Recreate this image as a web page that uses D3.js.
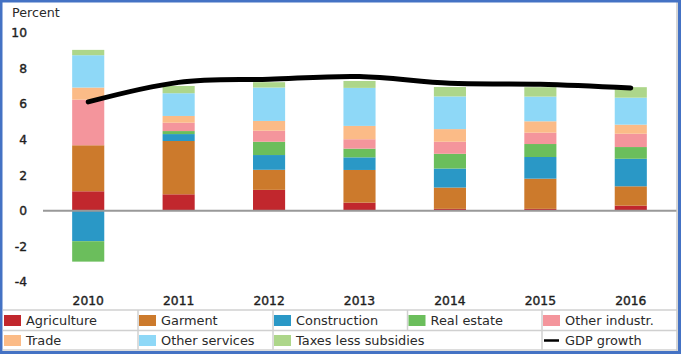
<!DOCTYPE html>
<html>
<head>
<meta charset="utf-8">
<script src="https://cdn.jsdelivr.net/npm/d3@7"></script>
<style>
  html, body { margin: 0; padding: 0; background: #fff; }
  svg { display: block; font-family: "DejaVu Sans", Verdana, sans-serif; }
</style>
</head>
<body>
<div id="chart"></div>
<script>
// contributions to growth, percentage points
const years = ["2010", "2011", "2012", "2013", "2014", "2015", "2016"];
const sectors = ["Agriculture", "Garment", "Construction", "Real estate", "Other industr.",
                 "Trade", "Other services", "Taxes less subsidies"];
const agriculture   = [1.09, 0.92, 1.17, 0.45, 0.10, 0.10, 0.28];
const garment       = [2.59, 3.00, 1.13, 1.84, 1.20, 1.70, 1.09];
const construction  = [-1.72, 0.39, 0.83, 0.71, 1.07, 1.22, 1.55];
const realEstate    = [-1.15, 0.17, 0.75, 0.49, 0.83, 0.73, 0.66];
const otherIndustry = [2.57, 0.47, 0.62, 0.53, 0.68, 0.64, 0.75];
const trade         = [0.68, 0.38, 0.55, 0.75, 0.71, 0.64, 0.51];
const otherServices = [1.82, 1.28, 1.88, 2.14, 1.84, 1.39, 1.52];
const taxes         = [0.30, 0.41, 0.30, 0.39, 0.53, 0.53, 0.59];
const gdpGrowth     = [6.12, 7.22, 7.40, 7.55, 7.17, 7.12, 6.91];
const yTicks = [-4, -2, 0, 2, 4, 6, 8, 10];

const colors = ["#c1272d", "#cc7a2c", "#2a98c6", "#6bbe5c", "#f4959c",
                "#fbbb87", "#8ed8f7", "#add68a"];
const seriesValues = [agriculture, garment, construction, realEstate, otherIndustry,
                      trade, otherServices, taxes];

const rows = years.map((yr, i) => {
  const r = { year: yr };
  sectors.forEach((s, k) => { r[s] = seriesValues[k][i]; });
  return r;
});

const W = 681, H = 354;
const svg = d3.select("#chart").append("svg")
  .attr("width", W).attr("height", H);

const x = d3.scaleBand().domain(years).range([43, 676])
  .paddingInner(0.645).paddingOuter(0.3225);
const y = d3.scaleLinear().domain([-4, 10]).range([281.7, 33]);

// y tick labels
svg.append("g").selectAll("text")
  .data(yTicks).join("text")
  .attr("x", 27).attr("y", d => y(d))
  .attr("dy", "0.36em")
  .attr("text-anchor", "end")
  .attr("font-size", 12.3)
  .attr("fill", "#1e1e1e")
  .attr("stroke", "#1e1e1e").attr("stroke-width", 0.4)
  .text(d => d);

svg.append("text")
  .attr("x", 12).attr("y", 17)
  .attr("font-size", 12.7)
  .attr("fill", "#2a2a2a")
  .text("Percent");

// stacked bars
const stack = d3.stack().keys(sectors).offset(d3.stackOffsetDiverging);
const layers = stack(rows);

svg.append("g").selectAll("g")
  .data(layers).join("g")
  .attr("fill", (d, i) => colors[i])
  .selectAll("rect")
  .data(d => d).join("rect")
  .attr("x", d => x(d.data.year))
  .attr("width", x.bandwidth())
  .attr("y", d => y(Math.max(d[0], d[1])))
  .attr("height", d => Math.abs(y(d[0]) - y(d[1])));

// zero line
svg.append("line")
  .attr("x1", 43).attr("x2", 677)
  .attr("y1", y(0)).attr("y2", y(0))
  .attr("stroke", "#999").attr("stroke-width", 2);

// GDP line
const line = d3.line()
  .x((d, i) => x(years[i]) + x.bandwidth() / 2)
  .y(d => y(d))
  .curve(d3.curveCatmullRom.alpha(0.5));

svg.append("path")
  .datum(gdpGrowth)
  .attr("fill", "none")
  .attr("stroke", "#000")
  .attr("stroke-width", 5)
  .attr("stroke-linecap", "round")
  .attr("d", line);

// x labels
svg.append("g").selectAll("text")
  .data(years).join("text")
  .attr("x", d => x(d) + x.bandwidth() / 2)
  .attr("y", 301)
  .attr("dy", "0.36em")
  .attr("text-anchor", "middle")
  .attr("font-size", 12.3)
  .attr("fill", "#1e1e1e")
  .attr("stroke", "#1e1e1e").attr("stroke-width", 0.4)
  .text(d => d);

// legend grid
const legendItems = sectors.map((s, i) => ({ name: s, color: colors[i], type: "rect" }));
legendItems.push({ name: "GDP growth", color: "#000", type: "line" });
const colX = [3, 138, 273, 407.5, 542];
const rowY = [310, 330.5, 350];
const slots = [[0, 0], [1, 0], [2, 0], [3, 0], [4, 0], [0, 1], [1, 1], [2, 1], [4, 1]];

const grid = svg.append("g").attr("stroke", "#d0d0d0").attr("stroke-width", 1.5);
rowY.forEach(yy => {
  grid.append("line").attr("x1", 3).attr("x2", 677).attr("y1", yy).attr("y2", yy);
});
colX.slice(1).forEach(cx => {
  grid.append("line").attr("x1", cx).attr("x2", cx).attr("y1", rowY[0]).attr("y2", rowY[1]);
  if (cx !== 407.5) {
    grid.append("line").attr("x1", cx).attr("x2", cx).attr("y1", rowY[1]).attr("y2", rowY[2]);
  }
});

const leg = svg.append("g").selectAll("g")
  .data(legendItems).join("g")
  .attr("transform", (d, i) => `translate(${colX[slots[i][0]]},${slots[i][1] ? 340.5 : 320.5})`);

leg.filter(d => d.type === "rect").append("rect")
  .attr("x", 1).attr("y", -5.5).attr("width", 17).attr("height", 11)
  .attr("fill", d => d.color);
leg.filter(d => d.type === "line").append("line")
  .attr("x1", 2).attr("x2", 17).attr("y1", 0).attr("y2", 0)
  .attr("stroke", "#000").attr("stroke-width", 2.5);
leg.append("text")
  .attr("x", 23).attr("dy", "0.36em")
  .attr("font-size", 12.9)
  .attr("fill", "#2a2a2a")
  .text(d => d.name);

// frame
svg.append("line").attr("x1", 677).attr("x2", 677).attr("y1", 0).attr("y2", H)
  .attr("stroke", "#c8c8c8").attr("stroke-width", 1.5);
svg.append("rect")
  .attr("x", 1.25).attr("y", 1.25).attr("width", W - 2.5).attr("height", H - 2.5)
  .attr("fill", "none").attr("stroke", "#4472c4").attr("stroke-width", 2.5);
svg.append("line").attr("x1", 679.5).attr("x2", 679.5).attr("y1", 0).attr("y2", H)
  .attr("stroke", "#4472c4").attr("stroke-width", 3);
svg.append("line").attr("x1", 0).attr("x2", W).attr("y1", 352.5).attr("y2", 352.5)
  .attr("stroke", "#4472c4").attr("stroke-width", 3);
</script>
</body>
</html>
